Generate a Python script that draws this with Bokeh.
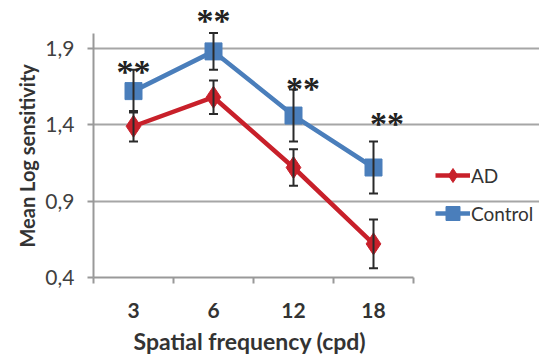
from bokeh.plotting import figure
from bokeh.models import (ColumnDataSource, FixedTicker, Whisker, TeeHead, Legend, LegendItem,
                          LabelSet, Range1d, Title)
from bokeh.embed import file_html
from bokeh.resources import INLINE

categories = ["3", "6", "12", "18"]
ad_mean = [1.39, 1.58, 1.12, 0.62]
ad_err = [0.10, 0.11, 0.12, 0.16]
ctrl_mean = [1.62, 1.88, 1.46, 1.12]
ctrl_err = [0.14, 0.12, 0.17, 0.17]
y_ticks = [0.4, 0.9, 1.4, 1.9]
y_tick_labels = ["0,4", "0,9", "1,4", "1,9"]
star_x = [0.0, 1.0, 2.12, 3.17]
star_y = [1.75, 2.08, 1.64, 1.41]
star_text = ["**", "**", "**", "**"]
x_title = "Spatial frequency (cpd)"
y_title = "Mean Log sensitivity"

xs = list(range(len(categories)))
FONT = "Lato"
RED = "#c8202a"
BLUE = "#4a7ebb"

p = figure(width=539, height=360, output_backend="svg", toolbar_location=None,
           x_range=Range1d(-0.5, 5.075), y_range=Range1d(0.4, 2.2),
           min_border_left=93, min_border_right=0, min_border_top=2, min_border_bottom=83)
p.outline_line_color = None
p.background_fill_color = "white"
p.border_fill_color = "white"

ad_src = ColumnDataSource(dict(x=xs, y=ad_mean,
                               lo=[m - e for m, e in zip(ad_mean, ad_err)],
                               hi=[m + e for m, e in zip(ad_mean, ad_err)]))
ct_src = ColumnDataSource(dict(x=xs, y=ctrl_mean,
                               lo=[m - e for m, e in zip(ctrl_mean, ctrl_err)],
                               hi=[m + e for m, e in zip(ctrl_mean, ctrl_err)]))

for src in (ad_src, ct_src):
    w = Whisker(source=src, base="x", lower="lo", upper="hi", dimension="height",
                line_color="#2a2a2a", line_width=2, level="glyph",
                upper_head=TeeHead(size=9, line_color="#2a2a2a", line_width=2),
                lower_head=TeeHead(size=9, line_color="#2a2a2a", line_width=2))
    p.add_layout(w)

l1 = p.line("x", "y", source=ad_src, line_color=RED, line_width=4.5)
m1 = p.scatter("x", "y", source=ad_src, marker="diamond", size=22, fill_color=RED, line_color=RED)
l2 = p.line("x", "y", source=ct_src, line_color=BLUE, line_width=4.5)
m2 = p.scatter("x", "y", source=ct_src, marker="square", size=17, fill_color=BLUE, line_color=BLUE)

star_src = ColumnDataSource(dict(x=star_x, y=star_y, t=star_text))
p.add_layout(LabelSet(x="x", y="y", text="t", source=star_src, text_align="center",
                      text_baseline="middle", text_font=FONT, text_font_size="34px",
                      text_font_style="bold", text_color="#222222"))

# axes
p.xaxis.ticker = FixedTicker(ticks=xs, minor_ticks=[-0.5, 0.5, 1.5, 2.5, 3.5])
p.xaxis.bounds = (-0.5, 3.5)
p.xaxis.major_label_overrides = {i: c for i, c in enumerate(categories)}
p.xaxis.major_tick_line_color = None
p.xaxis.minor_tick_out = 6
p.xaxis.minor_tick_in = 0
p.xaxis.minor_tick_line_color = "#999999"
p.xaxis.minor_tick_line_width = 2
p.xaxis.axis_line_color = "#999999"
p.xaxis.axis_line_width = 2
p.xaxis.major_label_text_font = FONT
p.xaxis.major_label_text_font_style = "bold"
p.xaxis.major_label_text_font_size = "21px"
p.xaxis.major_label_text_color = "#333333"
p.xaxis.major_label_standoff = 19

p.yaxis.ticker = FixedTicker(ticks=y_ticks, minor_ticks=[])
p.yaxis.bounds = (0.4, 2.0)
p.yaxis.major_label_overrides = {t: s for t, s in zip(y_ticks, y_tick_labels)}
p.yaxis.major_tick_out = 6
p.yaxis.major_tick_in = 0
p.yaxis.major_tick_line_color = "#999999"
p.yaxis.major_tick_line_width = 2
p.yaxis.axis_line_color = "#999999"
p.yaxis.axis_line_width = 2
p.yaxis.major_label_text_font = FONT
p.yaxis.major_label_text_font_size = "21px"
p.yaxis.major_label_text_color = "#404040"
p.yaxis.major_label_standoff = 13

p.add_layout(Title(text=x_title, align="left", offset=40, standoff=8,
                   text_font=FONT, text_font_style="bold", text_font_size="23px",
                   text_color="#333333"), "below")
p.add_layout(Title(text=y_title, align="left", offset=30, standoff=8,
                   text_font=FONT, text_font_style="bold", text_font_size="20px",
                   text_color="#333333"), "left")

p.xgrid.grid_line_color = None
p.ygrid.ticker = FixedTicker(ticks=y_ticks)
p.ygrid.bounds = (-0.5, 3.5)
p.ygrid.grid_line_color = "#a6a6a6"
p.ygrid.grid_line_width = 2

legend = Legend(items=[LegendItem(label="AD", renderers=[l1, m1]),
                       LegendItem(label="Control", renderers=[l2, m2])],
                location=(342, 46), background_fill_alpha=0, border_line_color=None,
                label_text_font=FONT, label_text_font_size="19px", label_text_color="#333333",
                glyph_width=35, glyph_height=36, spacing=2, label_standoff=1, padding=0, margin=0)
p.add_layout(legend, "center")

open("out.html", "w").write(file_html(p, INLINE))
